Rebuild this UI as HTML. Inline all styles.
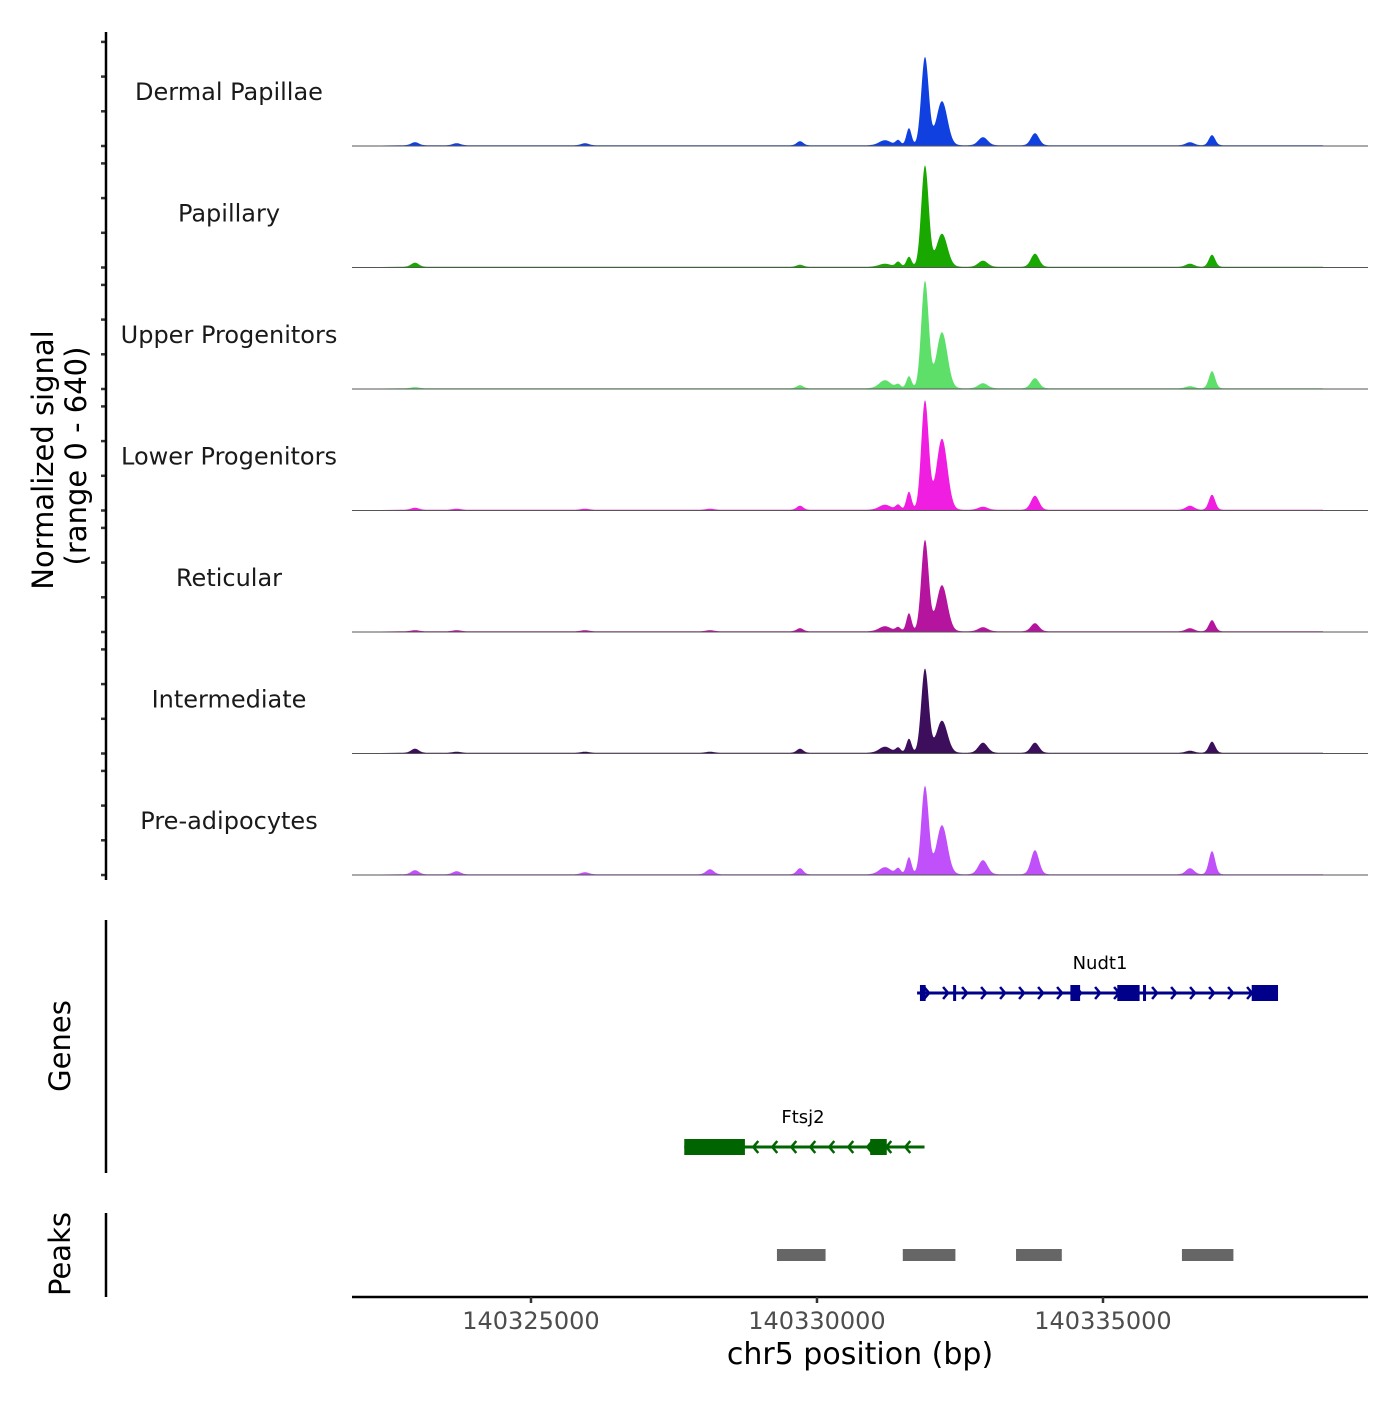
<!DOCTYPE html>
<html><head><meta charset="utf-8"><style>
body{margin:0;background:#fff}
svg text{font-family:"DejaVu Sans","Liberation Sans",sans-serif}
</style></head><body>
<svg id="chart" width="1400" height="1400" xmlns="http://www.w3.org/2000/svg">
<g id="tracks"></g>
<g id="axes"></g>
<g id="genes"></g>
<g id="peaks"></g>
</svg>
<script>
const trackNames = ["Dermal Papillae","Papillary","Upper Progenitors","Lower Progenitors","Reticular","Intermediate","Pre-adipocytes"];
const trackColors = ["#1040e0","#18a800","#5ddf6a","#f01ee0","#b5149f","#3c0e5c","#c050fa"];
const peakCenters = [140331888,140332185,140331608,140331420,140331189,140332902,140333811,140336906,140336521,140329703,140322972,140325944,140328129,140323700];
const peakWidths  = [65,95,45,45,100,80,70,55,70,55,65,65,65,65];
const heightsDP  = [88,44,17,5,5,8,12,10,3,4,3,2,0,2];
const heightsPap = [101,33,10,5,3,6,13,12,3,2,4,0,0,0];
const heightsUP  = [107,56,12,4,8,5,10,17,2,3,1,0,0,0];
const heightsLP  = [109,71,18,5,5,3,14,15,4,4,2,1,1,1];
const heightsRet = [91,46,18,4,5,4,8,11,3,3,1,1,1,1];
const heightsInt = [84,32,14,5,6,10,10,11,2,4,4,1,1,1];
const heightsPre = [88,49,17,6,7,14,24,23,6,6,4,2,5,3];
const trackHeights = [heightsDP,heightsPap,heightsUP,heightsLP,heightsRet,heightsInt,heightsPre];
const xTicks = [140325000,140330000,140335000];
const nudt1Exons = [[140331800,140331900],[140332380,140332430],[140334430,140334600],[140335250,140335640],[140335700,140335750],[140337600,140338060]];
const nudt1Span = [140331750,140338060];
const ftsj2Exons = [[140327680,140328740],[140330930,140331220]];
const ftsj2Span = [140327680,140331880];
const peakRegions = [[140329300,140330150],[140331500,140332420],[140333480,140334280],[140336380,140337280]];

const NS="http://www.w3.org/2000/svg";
const X0=352,X1=1368,BP0=140321871,BP1=140339633;
const xs=bp=>X0+(bp-BP0)/(BP1-BP0)*(X1-X0);
function el(tag,attrs,parent){const e=document.createElementNS(NS,tag);for(const k in attrs)e.setAttribute(k,attrs[k]);parent.appendChild(e);return e;}
const tracks=document.getElementById('tracks'),axes=document.getElementById('axes');
trackNames.forEach((name,i)=>{
  const base=146+121.5*i;
  const g=el('g',{},tracks);
  
  
  let d='M'+X0+','+base;
  for(let x=X0+48;x<=X1-45;x+=0.5){
    const bp=BP0+(x-X0)/(X1-X0)*(BP1-BP0);
    let v=0.8;
    peakCenters.forEach((c,k)=>{const z=(bp-c)/peakWidths[k];v+=trackHeights[i][k]*Math.exp(-0.5*z*z);});
    d+=' L'+x.toFixed(1)+','+(base-v).toFixed(1);
  }
  d+=' L'+(X1-45)+','+base+' Z';
  const p=el('path',{d:d,fill:trackColors[i]},g);
  
  
  const bl=el('line',{x1:X0,x2:X1,y1:base,y2:base,stroke:'#555','stroke-width':1},g);
  
  
  const t=el('text',{x:229,y:base-46,'text-anchor':'middle','font-size':24,fill:'#1a1a1a'},g);
  t.textContent=name;
  
  
  for(let k=0;k<4;k++){
    const ty=base-34.7*k;
    const tk=el('line',{x1:101,x2:106,y1:ty,y2:ty,stroke:'#333','stroke-width':2.5},axes);
    
    
  }
});
[[32,880],[920,1173],[1213,1297]].forEach(s=>{
  const l=el('line',{x1:106,x2:106,y1:s[0],y2:s[1],stroke:'#000','stroke-width':2.5},axes);
  
  
});
function rotText(txt,x,y,size,name){
  const t=el('text',{x:x,y:y,'text-anchor':'middle','font-size':size,fill:'#000',transform:'rotate(-90 '+x+' '+y+')'},axes);
  t.textContent=txt;
  
  
}
rotText('Normalized signal',53,460,29,'y-axis-title');
rotText('(range 0 - 640)',86,456,29,'y-axis-subtitle');
rotText('Genes',70,1046,29,'genes-axis-title');
rotText('Peaks',70,1254,29,'peaks-axis-title');
const xl=el('line',{x1:X0,x2:X1,y1:1297,y2:1297,stroke:'#000','stroke-width':2.5},axes);


xTicks.forEach(v=>{
  const x=xs(v);
  const tk=el('line',{x1:x,x2:x,y1:1297,y2:1303,stroke:'#333','stroke-width':2.5},axes);
  
  
  const t=el('text',{x:x,y:1329,'text-anchor':'middle','font-size':24,fill:'#4d4d4d'},axes);
  t.textContent=v;
  
  
});
const xt=el('text',{x:860,y:1364,'text-anchor':'middle','font-size':30,fill:'#000'},axes);
xt.textContent='chr5 position (bp)';


const genes=document.getElementById('genes');
function drawGene(name,span,exons,y,color,dir){
  const g=el('g',{},genes);
  
  
  el('line',{x1:xs(span[0]),x2:xs(span[1]),y1:y,y2:y,stroke:color,'stroke-width':3},g);
  for(let x=xs(span[0])+12;x<xs(span[1])-6;x+=19){
    const a=dir*5;
    el('polyline',{points:(x-a)+','+(y-6)+' '+x+','+y+' '+(x-a)+','+(y+6),fill:'none',stroke:color,'stroke-width':2.5},g);
  }
  exons.forEach(e=>{
    const r=el('rect',{x:xs(e[0]),y:y-8,width:Math.max(3,xs(e[1])-xs(e[0])),height:16,fill:color},g);
    
    
  });
  const mid=name==='Nudt1'?1100:803;
  const t=el('text',{x:mid,y:y-24,'text-anchor':'middle','font-size':18,fill:'#000'},g);
  t.textContent=name;
  
  
}
drawGene('Nudt1',nudt1Span,nudt1Exons,993,'#00008b',1);
drawGene('Ftsj2',ftsj2Span,ftsj2Exons,1147,'#006400',-1);
const peaks=document.getElementById('peaks');
peakRegions.forEach(r=>{
  const b=el('rect',{x:xs(r[0]),y:1249,width:xs(r[1])-xs(r[0]),height:12,fill:'#666'},peaks);
  
  
});
</script>
</body></html>
